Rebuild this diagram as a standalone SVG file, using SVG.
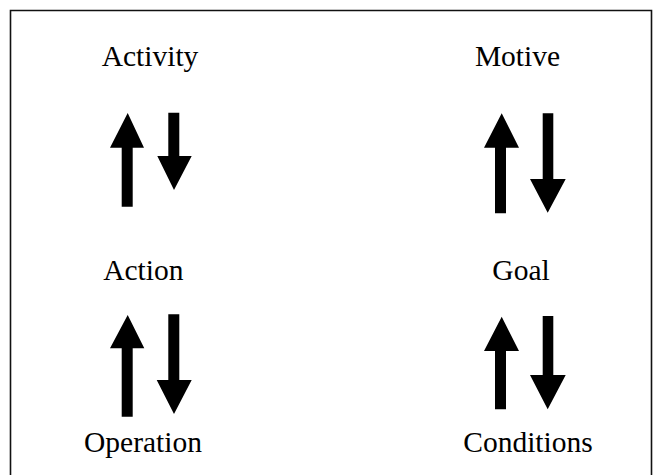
<svg xmlns="http://www.w3.org/2000/svg" width="664" height="475" viewBox="0 0 664 475">
<style>
.lbl{font-family:"Liberation Serif","Times New Roman",serif;font-size:29.5px;fill:#000;text-anchor:middle}
.arr{fill:#000}
</style>
<rect width="664" height="475" fill="#fff"/>
<path d="M10.5,480 V10.5 H651.5 V480" fill="none" stroke="#111" stroke-width="1.6"/>
<g id="activity"><text class="lbl" x="150" y="66">Activity</text></g>
<g id="motive"><text class="lbl" x="517.5" y="66">Motive</text></g>
<g id="action"><text class="lbl" x="143.3" y="280">Action</text></g>
<g id="goal"><text class="lbl" x="521" y="280">Goal</text></g>
<g id="operation"><text class="lbl" x="143" y="452">Operation</text></g>
<g id="conditions"><text class="lbl" x="528" y="452">Conditions</text></g>
<g id="connectors">
<polygon class="arr" points="127.7,113 144,147.7 132.7,147.7 132.7,206.7 121.7,206.7 121.7,147.7 110,147.7"/>
<polygon class="arr" points="168.3,112.7 179.3,112.7 179.3,156 191.7,156 174,190 157.3,156 168.3,156"/>
<polygon class="arr" points="501.7,113.3 519,147.7 506,147.7 506,213.3 495,213.3 495,147.7 484,147.7"/>
<polygon class="arr" points="542.7,113.3 553.3,113.3 553.3,179 565.7,179 547.7,212.7 530,179 542.7,179"/>
<polygon class="arr" points="127.7,315 144.3,348.3 132.7,348.3 132.7,416.7 121.7,416.7 121.7,348.3 110,348.3"/>
<polygon class="arr" points="168.3,314.3 179.3,314.3 179.3,380 191.7,380 174,414 156.7,380 168.3,380"/>
<polygon class="arr" points="501.7,316.7 519,351 506,351 506,409.3 495,409.3 495,351 484,351"/>
<polygon class="arr" points="542.7,316 553.3,316 553.3,375 565.7,375 547.7,409.3 530,375 542.7,375"/>
</g>
</svg>
